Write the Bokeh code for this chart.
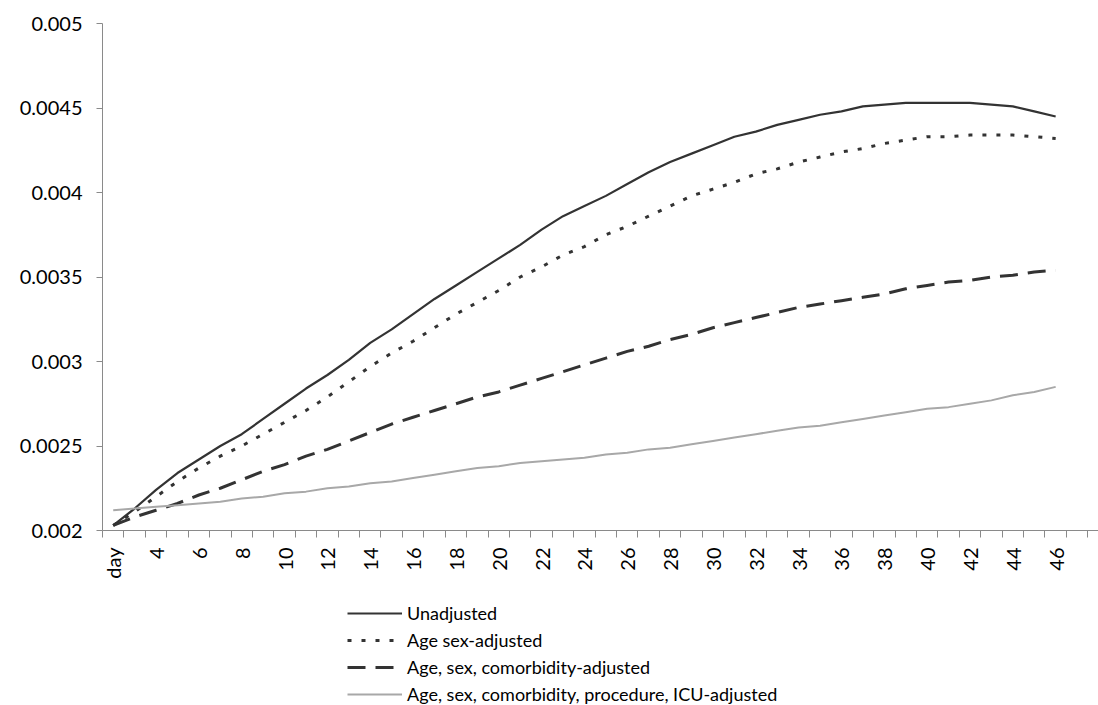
import math
from bokeh.plotting import figure
from bokeh.layouts import column
from bokeh.models import FixedTicker, Legend, LegendItem, Range1d
from bokeh.embed import file_html
from bokeh.resources import INLINE

# ---- data ----
days = list(range(2, 47))
x_tick_days = list(range(2, 47, 2))
x_tick_labels = ["day"] + [str(d) for d in range(4, 47, 2)]
category_edges = [d - 0.5 for d in range(2, 49)]
y_ticks = [0.002, 0.0025, 0.003, 0.0035, 0.004, 0.0045, 0.005]
y_tick_labels = ["0.002", "0.0025", "0.003", "0.0035", "0.004", "0.0045", "0.005"]

unadjusted = [0.00203, 0.00213, 0.00224, 0.00234, 0.00242, 0.00250, 0.00257, 0.00266, 0.00275, 0.00284,
              0.00292, 0.00301, 0.00311, 0.00319, 0.00328, 0.00337, 0.00345, 0.00353, 0.00361, 0.00369,
              0.00378, 0.00386, 0.00392, 0.00398, 0.00405, 0.00412, 0.00418, 0.00423, 0.00428, 0.00433,
              0.00436, 0.00440, 0.00443, 0.00446, 0.00448, 0.00451, 0.00452, 0.00453, 0.00453, 0.00453,
              0.00453, 0.00452, 0.00451, 0.00448, 0.00445]
age_sex = [0.00203, 0.00211, 0.00220, 0.00229, 0.00237, 0.00244, 0.00250, 0.00257, 0.00264, 0.00271,
           0.00279, 0.00288, 0.00297, 0.00305, 0.00312, 0.00320, 0.00328, 0.00335, 0.00342, 0.00350,
           0.00356, 0.00363, 0.00368, 0.00375, 0.00380, 0.00386, 0.00392, 0.00398, 0.00402, 0.00406,
           0.00411, 0.00414, 0.00418, 0.00421, 0.00424, 0.00426, 0.00429, 0.00431, 0.00433, 0.00433,
           0.00434, 0.00434, 0.00434, 0.00433, 0.00432]
comorbidity = [0.00203, 0.00208, 0.00212, 0.00216, 0.00221, 0.00225, 0.00230, 0.00235, 0.00239, 0.00244,
               0.00248, 0.00253, 0.00258, 0.00263, 0.00267, 0.00271, 0.00275, 0.00279, 0.00282, 0.00286,
               0.00290, 0.00294, 0.00298, 0.00302, 0.00306, 0.00309, 0.00313, 0.00316, 0.00320, 0.00323,
               0.00326, 0.00329, 0.00332, 0.00334, 0.00336, 0.00338, 0.00340, 0.00343, 0.00345, 0.00347,
               0.00348, 0.00350, 0.00351, 0.00353, 0.00354]
icu = [0.00212, 0.00213, 0.00214, 0.00215, 0.00216, 0.00217, 0.00219, 0.00220, 0.00222, 0.00223,
       0.00225, 0.00226, 0.00228, 0.00229, 0.00231, 0.00233, 0.00235, 0.00237, 0.00238, 0.00240,
       0.00241, 0.00242, 0.00243, 0.00245, 0.00246, 0.00248, 0.00249, 0.00251, 0.00253, 0.00255,
       0.00257, 0.00259, 0.00261, 0.00262, 0.00264, 0.00266, 0.00268, 0.00270, 0.00272, 0.00273,
       0.00275, 0.00277, 0.00280, 0.00282, 0.00285]

series_names = ["Unadjusted", "Age sex-adjusted", "Age, sex, comorbidity-adjusted",
                "Age, sex, comorbidity, procedure, ICU-adjusted"]

FONT = "Lato"
AXIS_COL = "#8a8a8a"
DARK = "#333333"
GREY = "#a8a8a8"
styles = [dict(line_color=DARK, line_width=2.2),
          dict(line_color=DARK, line_width=3, line_dash="4 10"),
          dict(line_color=DARK, line_width=3, line_dash="18 10"),
          dict(line_color=GREY, line_width=2)]
series = [unadjusted, age_sex, comorbidity, icu]

p = figure(frame_width=996, frame_height=507, output_backend="svg", toolbar_location=None,
           x_range=Range1d(1.5, 48.0), y_range=Range1d(0.002, 0.005),
           min_border_left=102, min_border_right=0, min_border_top=23, min_border_bottom=70)
p.outline_line_color = None
p.xgrid.visible = False
p.ygrid.visible = False
p.background_fill_color = "white"
p.border_fill_color = "white"

for vals, st in zip(series, styles):
    p.line(days, vals, **st)

# x axis
xa = p.xaxis[0]
xa.ticker = FixedTicker(ticks=x_tick_days, minor_ticks=category_edges)
xa.major_label_overrides = {d: lab for d, lab in zip(x_tick_days, x_tick_labels)}
xa.major_label_orientation = math.pi / 2
xa.major_tick_out = 0
xa.major_tick_in = 0
xa.minor_tick_out = 7
xa.minor_tick_in = 0
xa.minor_tick_line_color = AXIS_COL
xa.axis_line_color = AXIS_COL
xa.major_label_text_font = FONT
xa.major_label_text_font_size = "20px"
xa.major_label_text_color = "black"
xa.major_label_standoff = 10

# y axis
ya = p.yaxis[0]
ya.ticker = FixedTicker(ticks=y_ticks, minor_ticks=[])
ya.major_label_overrides = {t: lab for t, lab in zip(y_ticks, y_tick_labels)}
ya.major_tick_out = 6
ya.major_tick_in = 0
ya.major_tick_line_color = AXIS_COL
ya.axis_line_color = AXIS_COL
ya.major_label_text_font = FONT
ya.major_label_text_font_size = "20px"
ya.major_label_text_color = "black"
ya.major_label_standoff = 14

# legend panel (separate figure below the chart; its frame is aligned with the chart's frame)
lg = figure(width=1098, height=105, output_backend="svg", toolbar_location=None,
            x_axis_location=None, y_axis_location=None,
            x_range=Range1d(0, 1), y_range=Range1d(0, 1),
            min_border_left=0, min_border_right=0, min_border_top=0, min_border_bottom=0)
lg.outline_line_color = None
lg.xgrid.visible = False
lg.ygrid.visible = False
lg.border_fill_color = "white"
# proxy renderers for the legend keys (same series, outside this panel's visible range)
lg_renderers = [lg.line(days, vals, **st) for vals, st in zip(series, styles)]

legend = Legend(items=[LegendItem(label=n, renderers=[r]) for n, r in zip(series_names, lg_renderers)],
                location=(245, 0), orientation="vertical",
                glyph_width=55, glyph_height=20, label_standoff=5, spacing=5, padding=0, margin=0,
                label_text_font=FONT, label_text_font_size="18px", label_text_color="black",
                border_line_color=None, background_fill_alpha=0)
lg.add_layout(legend, "center")

layout = column(p, lg, spacing=0)
open("out.html", "w").write(file_html(layout, INLINE))
